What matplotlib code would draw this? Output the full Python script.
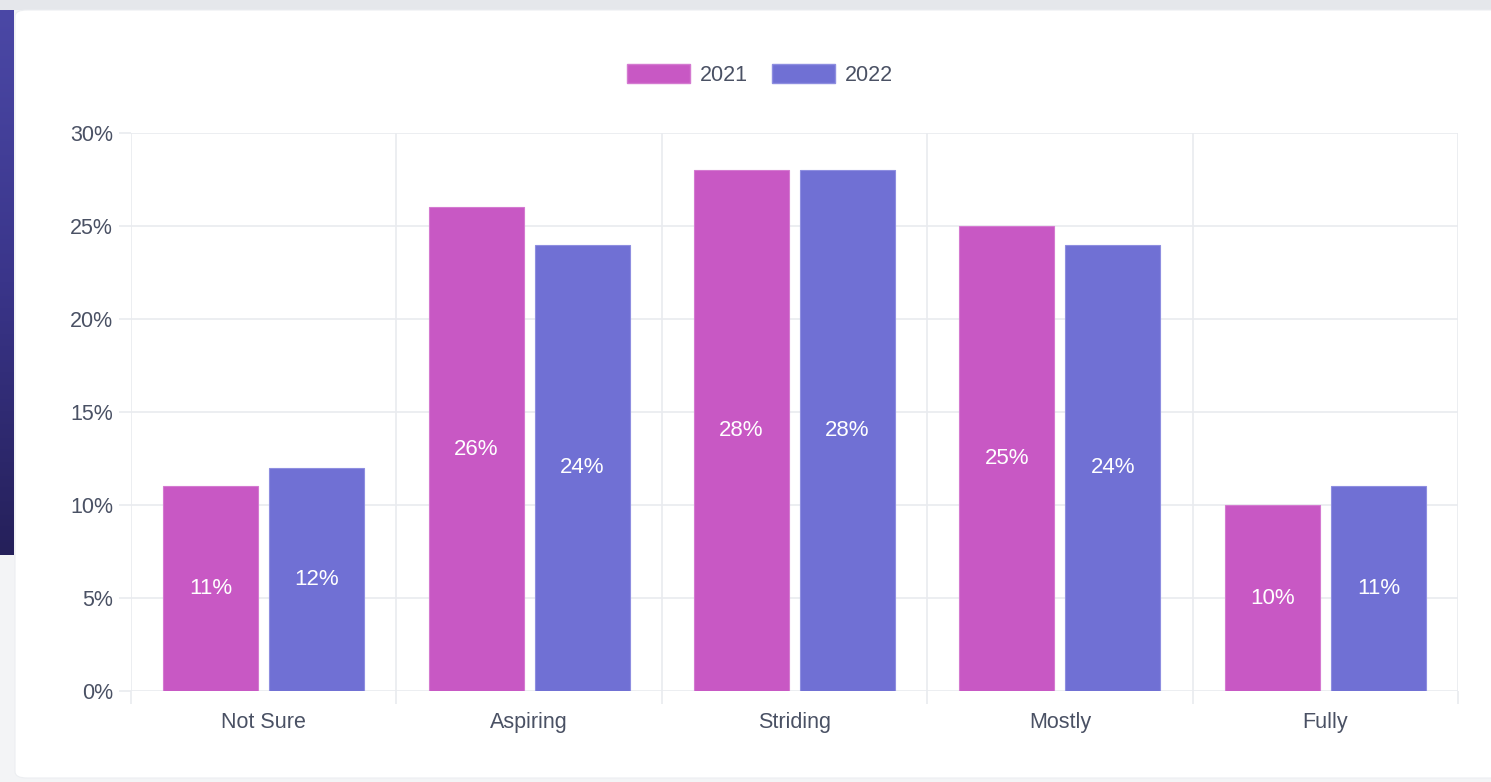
import numpy as np
import matplotlib
matplotlib.use("Agg")
import matplotlib.pyplot as plt
from matplotlib.patches import Rectangle, FancyBboxPatch, Patch
from matplotlib.colors import LinearSegmentedColormap

categories = ["Not Sure", "Aspiring", "Striding", "Mostly", "Fully"]
years = ["2021", "2022"]
values_2021 = [11, 26, 28, 25, 10]
values_2022 = [12, 24, 28, 24, 11]
yticks = [0, 5, 10, 15, 20, 25, 30]

c2021 = "#c858c4"
c2022 = "#7070d4"
text_col = "#4a5164"
grid_col = "#e9ebef"

plt.rcParams["font.family"] = ["Liberation Sans", "DejaVu Sans"]

W, H = 1491, 782
fig = plt.figure(figsize=(W / 100, H / 100), dpi=100)
fig.patch.set_facecolor("#f3f4f6")

# page background: top band, left gradient strip, white card
fig.patches.append(Rectangle((0, 1 - 10 / H), 1, 10 / H, transform=fig.transFigure,
                             facecolor="#e5e7eb", edgecolor="none", zorder=0))
gax = fig.add_axes([0, 1 - 555 / H, 14 / W, (555 - 10) / H])
cmap = LinearSegmentedColormap.from_list("band", ["#4b48a6", "#3a358a", "#25205a"])
gax.imshow(np.linspace(0, 1, 200).reshape(-1, 1), aspect="auto", cmap=cmap)
gax.axis("off")
fig.patches.append(FancyBboxPatch((15 / W, 4 / H), 1.2, 1 - 10 / H - 4 / H,
                                  boxstyle="round,pad=0,rounding_size=0.008",
                                  transform=fig.transFigure, facecolor="white",
                                  edgecolor="#eceef1", linewidth=0.8, zorder=1))

ax = fig.add_axes([131 / W, 1 - 691 / H, (1458 - 131) / W, (691 - 133) / H])
ax.set_facecolor("none")
ax.set_zorder(2)

x = np.arange(len(categories))
w = 0.358
off = 0.2
ax.bar(x - off, values_2021, w, color=c2021, edgecolor="#d47ad0", linewidth=0.8, zorder=3)
ax.bar(x + off, values_2022, w, color=c2022, edgecolor="#8e8ee0", linewidth=0.8, zorder=3)

for xs, vals in [(x - off, values_2021), (x + off, values_2022)]:
    for xi, v in zip(xs, vals):
        ax.text(xi, v / 2, f"{v}%", color="white", ha="center", va="center",
                fontsize=16, zorder=4)

ax.set_xlim(-0.5, len(categories) - 0.5)
ax.set_ylim(0, 30)
ax.set_yticks(yticks)
ax.set_yticklabels([f"{t}%" for t in yticks])
ax.set_xticks(x)
ax.set_xticklabels(categories)
ax.set_xticks(np.arange(-0.5, len(categories)), minor=True)

for s in ax.spines.values():
    s.set_visible(False)

ax.grid(axis="y", color=grid_col, linewidth=1.2, zorder=0)
ax.grid(axis="x", which="minor", color=grid_col, linewidth=1.2, zorder=0)
ax.tick_params(axis="x", which="major", length=0, pad=15, labelsize=15.5, labelcolor=text_col)
ax.tick_params(axis="x", which="minor", length=9, width=1.2, color=grid_col)
ax.tick_params(axis="y", length=9, width=1.2, color=grid_col, pad=4, labelsize=15.5,
               labelcolor=text_col)

handles = [Patch(facecolor=c2021, edgecolor="#d47ad0"),
           Patch(facecolor=c2022, edgecolor="#8e8ee0")]
fig.legend(handles, years, loc="center", bbox_to_anchor=(760 / W, 1 - 75 / H), ncol=2,
           frameon=False, fontsize=15.5, labelcolor=text_col, handlelength=2.9,
           handleheight=1.0, handletextpad=0.45, columnspacing=1.15)

fig.savefig("out.png", dpi=100)
